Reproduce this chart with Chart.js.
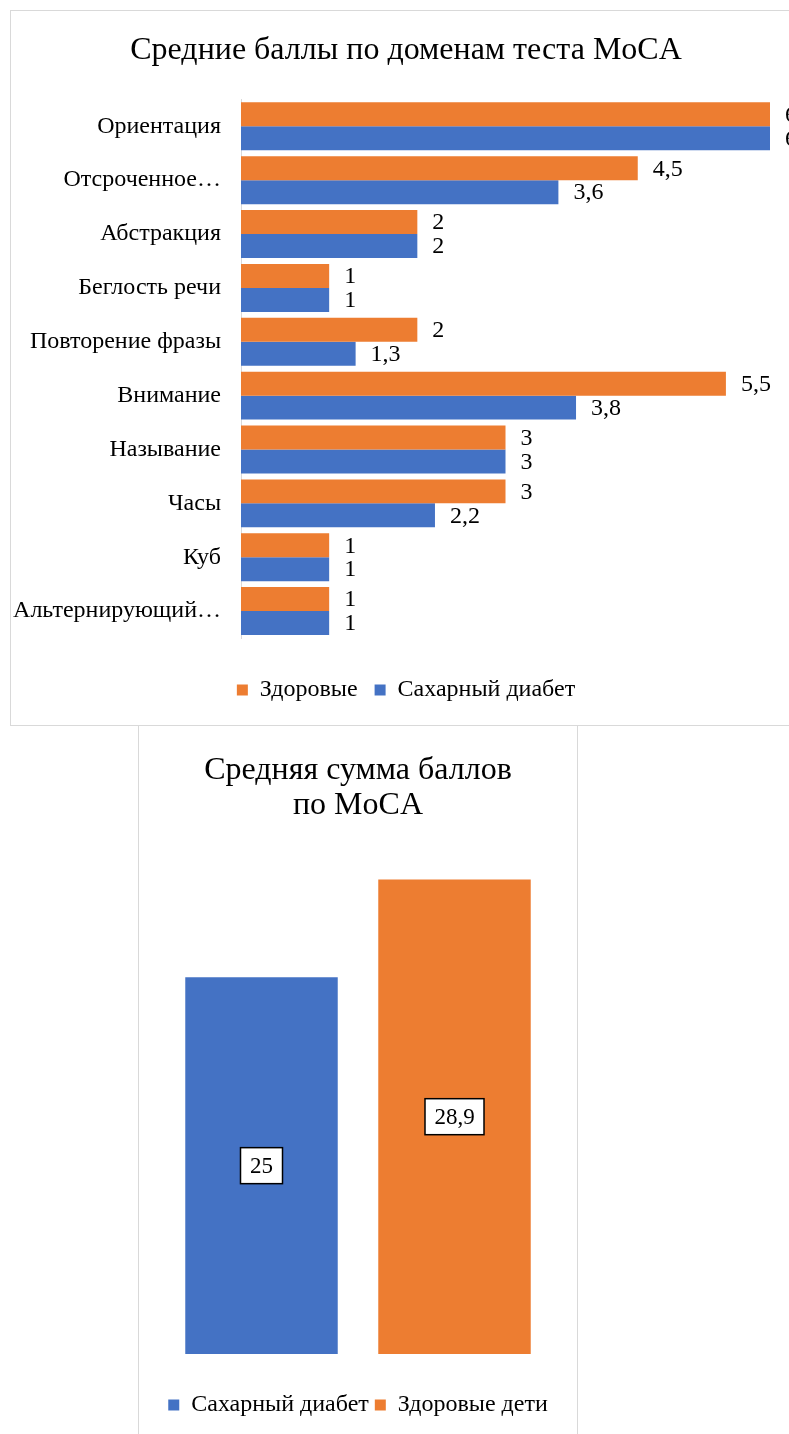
<!DOCTYPE html>
<html>
<head>
<meta charset="utf-8">
<script src="https://cdn.jsdelivr.net/npm/chart.js@4.4.1/dist/chart.umd.min.js"></script>
<style>
  html, body { margin: 0; padding: 0; background: #fff; width: 789px; height: 1434px; overflow: hidden; }
  .box { position: absolute; border: 1px solid #d9d9d9; background: #fff; }
  #box1 { left: 10px; top: 10px; width: 800px; height: 714px; }
  #box2 { left: 138px; top: 725px; width: 438px; height: 730px; }
  canvas { display: block; }
</style>
</head>
<body>
<div class="box" id="box1"><canvas id="c1" width="800" height="714"></canvas></div>
<div class="box" id="box2"><canvas id="c2" width="438" height="730"></canvas></div>
<script>
// ---- Chart 1 data ----
const domainCategories = ['Ориентация', 'Отсроченное…', 'Абстракция', 'Беглость речи', 'Повторение фразы', 'Внимание', 'Называние', 'Часы', 'Куб', 'Альтернирующий…'];
const healthyScores = [6, 4.5, 2, 1, 2, 5.5, 3, 3, 1, 1];
const diabetesScores = [6, 3.6, 2, 1, 1.3, 3.8, 3, 2.2, 1, 1];
const chart1Title = 'Средние баллы по доменам теста MoCA';
const chart1Series = ['Здоровые', 'Сахарный диабет'];

// ---- Chart 2 data ----
const totalCategories = ['Сахарный диабет', 'Здоровые дети'];
const totalDiabetes = [25, null];
const totalHealthy = [null, 28.9];
const chart2Title = ['Средняя сумма баллов', 'по MoCA'];

const ORANGE = '#ED7D31';
const BLUE = '#4472C4';
const SERIF = "'Liberation Serif', 'Times New Roman', serif";

function fmt(v) { return String(v).replace('.', ','); }

function spacer(pos, w) {
  return {
    type: 'linear', position: pos, display: true,
    grid: { display: false }, border: { display: false }, ticks: { display: false },
    afterFit(s) { s.width = w; }
  };
}

const outsideLabels = {
  id: 'outsideLabels',
  afterDatasetsDraw(chart) {
    const ctx = chart.ctx;
    ctx.save();
    ctx.font = '24px ' + SERIF;
    ctx.fillStyle = '#000';
    ctx.textAlign = 'left';
    ctx.textBaseline = 'middle';
    chart.data.datasets.forEach((ds, i) => {
      chart.getDatasetMeta(i).data.forEach((el, j) => {
        const v = ds.data[j];
        if (v == null) return;
        ctx.fillText(fmt(v), el.x + 15, el.y + 1);
      });
    });
    ctx.restore();
  }
};

const boxedLabels = {
  id: 'boxedLabels',
  afterDatasetsDraw(chart) {
    const ctx = chart.ctx;
    const area = chart.chartArea;
    ctx.save();
    ctx.font = '23px ' + SERIF;
    ctx.textAlign = 'center';
    ctx.textBaseline = 'middle';
    chart.data.datasets.forEach((ds, i) => {
      chart.getDatasetMeta(i).data.forEach((el, j) => {
        const v = ds.data[j];
        if (v == null) return;
        const t = fmt(v);
        const w = Math.round(ctx.measureText(t).width + 19);
        const h = 36;
        const base = Math.min(el.base, area.bottom);
        const cx = el.x, cy = (el.y + base) / 2;
        ctx.fillStyle = '#fff';
        ctx.fillRect(cx - w / 2, cy - h / 2, w, h);
        ctx.strokeStyle = '#000';
        ctx.lineWidth = 1.5;
        ctx.strokeRect(cx - w / 2, cy - h / 2, w, h);
        ctx.fillStyle = '#000';
        ctx.fillText(t, cx, cy + 1);
      });
    });
    ctx.restore();
  }
};

new Chart(document.getElementById('c1'), {
  type: 'bar',
  data: {
    labels: domainCategories,
    datasets: [
      { label: chart1Series[0], data: healthyScores, backgroundColor: ORANGE },
      { label: chart1Series[1], data: diabetesScores, backgroundColor: BLUE }
    ]
  },
  options: {
    indexAxis: 'y',
    responsive: false,
    animation: false,
    categoryPercentage: 0.89,
    barPercentage: 1,
    layout: { padding: { left: 0, right: 10, top: 0, bottom: 13 } },
    plugins: {
      title: {
        display: true, text: chart1Title, color: '#000',
        font: { family: SERIF, size: 32, weight: 'normal', lineHeight: 1.2 },
        padding: { top: 20, bottom: 30 }
      },
      legend: {
        position: 'bottom',
        labels: { color: '#000', boxWidth: 11, boxHeight: 11, padding: 17, font: { family: SERIF, size: 24 } }
      },
      tooltip: { enabled: false }
    },
    scales: {
      x: {
        min: 0, max: 6,
        display: true,
        grid: { display: false },
        border: { display: false },
        ticks: { display: false },
        afterFit(s) { s.height = 23; }
      },
      y: {
        grid: { display: false, drawTicks: false },
        border: { display: true, color: '#d9d9d9', width: 1 },
        ticks: { color: '#000', padding: 20, font: { family: SERIF, size: 24 }, autoSkip: false },
        afterFit(s) { s.width = 230; }
      },
      yRight: spacer('right', 31)
    }
  },
  plugins: [outsideLabels]
});

new Chart(document.getElementById('c2'), {
  type: 'bar',
  data: {
    labels: totalCategories,
    datasets: [
      { label: totalCategories[0], data: totalDiabetes, backgroundColor: BLUE },
      { label: totalCategories[1], data: totalHealthy, backgroundColor: ORANGE }
    ]
  },
  options: {
    responsive: false,
    animation: false,
    skipNull: true,
    categoryPercentage: 0.79,
    barPercentage: 1,
    layout: { padding: { left: 0, right: 0, top: 0, bottom: 29 } },
    plugins: {
      title: {
        display: true, text: chart2Title, color: '#000',
        font: { family: SERIF, size: 32, weight: 'normal', lineHeight: 1.09 },
        padding: { top: 27, bottom: 29 }
      },
      legend: {
        position: 'bottom',
        labels: { color: '#000', boxWidth: 11, boxHeight: 11, padding: 6, font: { family: SERIF, size: 24 } }
      },
      tooltip: { enabled: false }
    },
    scales: {
      x: {
        display: true,
        grid: { display: false },
        border: { display: false },
        ticks: { display: false },
        afterFit(s) { s.height = 33; }
      },
      y: Object.assign(spacer('left', 26), { min: 10, max: 30 }),
      yRight: spacer('right', 26)
    }
  },
  plugins: [boxedLabels]
});
</script>
</body>
</html>
